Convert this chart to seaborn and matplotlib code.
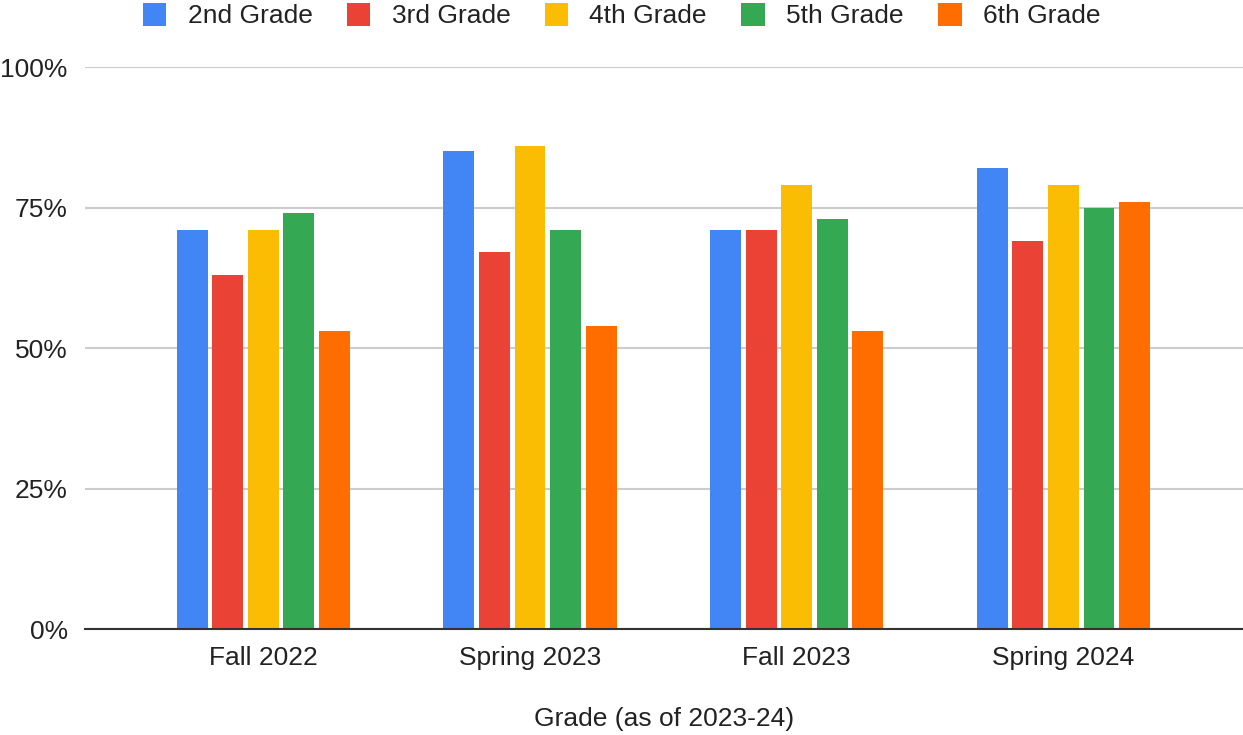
import pandas as pd
import matplotlib.pyplot as plt
import seaborn as sns
from matplotlib.ticker import PercentFormatter
from matplotlib.patches import Patch

# data
terms = ["Fall 2022", "Spring 2023", "Fall 2023", "Spring 2024"]
grades = ["2nd Grade", "3rd Grade", "4th Grade", "5th Grade", "6th Grade"]
grade_2 = [71, 85, 71, 82]
grade_3 = [63, 67, 71, 69]
grade_4 = [71, 86, 79, 79]
grade_5 = [74, 71, 73, 75]
grade_6 = [53, 54, 53, 76]
colors = ["#4285F4", "#EA4335", "#FBBC04", "#34A853", "#FF6D01"]

rows = []
for g, vals in zip(grades, [grade_2, grade_3, grade_4, grade_5, grade_6]):
    for t, v in zip(terms, vals):
        rows.append({"Term": t, "Grade": g, "Pct": v})
data = pd.DataFrame(rows)

sns.set_style("white")
plt.rcParams['font.family'] = ['Liberation Sans', 'DejaVu Sans']

fig = plt.figure(figsize=(12.43, 7.35), dpi=100)
ax = fig.add_axes([0.068, 0.1442, 0.932, 0.7646])

sns.barplot(data=data, x="Term", y="Pct", hue="Grade", order=terms,
            hue_order=grades, palette=colors, width=0.666, gap=0.13,
            saturation=1, legend=False, linewidth=0, ax=ax, zorder=3)

ax.set_ylim(0, 100)
ax.set_xlim(-0.67, 3.673)
ax.set_yticks([0, 25, 50, 75, 100])
ax.yaxis.set_major_formatter(PercentFormatter(decimals=0))
ax.grid(axis="y", color="#cccccc", linewidth=1.5, zorder=0)
ax.tick_params(axis="both", length=0, labelsize=19, colors="#222222")
ax.tick_params(axis="y", pad=12)
ax.tick_params(axis="x", pad=12)
for s in ["top", "right", "left"]:
    ax.spines[s].set_visible(False)
ax.spines["bottom"].set_color("#333333")
ax.spines["bottom"].set_linewidth(1.5)
ax.spines["bottom"].set_zorder(4)

ax.set_xlabel("Grade (as of 2023-24)", fontsize=19, color="#222222", labelpad=27)
ax.set_ylabel("")

handles = [Patch(facecolor=c, edgecolor="none") for c in colors]
fig.legend(handles, grades, loc="center", bbox_to_anchor=(0.5, 0.979),
           ncol=5, frameon=False, fontsize=19, handlelength=0.9,
           handleheight=1.0, handletextpad=0.8, columnspacing=1.3,
           labelcolor="#222222")

plt.savefig("out.png", dpi=100)
plt.close()
